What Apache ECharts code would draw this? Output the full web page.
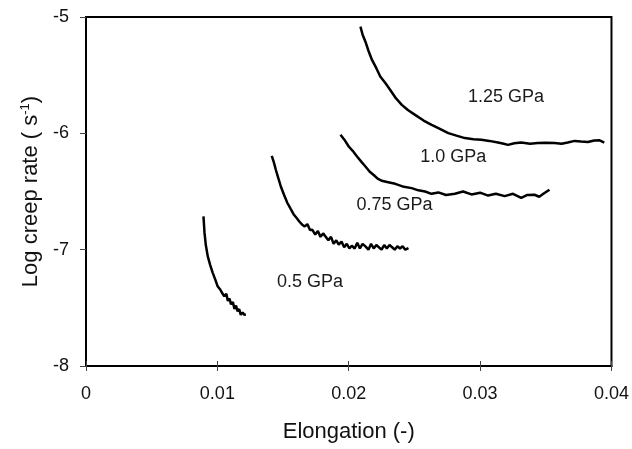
<!DOCTYPE html>
<html>
<head>
<meta charset="utf-8">
<script src="https://cdn.jsdelivr.net/npm/echarts@6/dist/echarts.min.js"></script>
<style>
  html, body { margin: 0; padding: 0; background: #fff; }
  #chart { width: 632px; height: 449px; }
</style>
</head>
<body>
<div id="chart"></div>
<script>
// elongation (-) and log creep rate (s^-1) per stress level
const x05 = [0.00894,0.00898,0.00902,0.00912,0.00927,0.00945,0.00964,0.00985,0.01002,0.01020,0.01035,0.01053,0.01068,0.01080,0.01092,0.01104,0.01118,0.01130,0.01142,0.01154,0.01166,0.01178,0.01192,0.01205,0.01217]
const y05 = [-6.714,-6.78,-6.854,-6.96,-7.058,-7.13,-7.197,-7.26,-7.315,-7.34,-7.37,-7.40,-7.38,-7.44,-7.42,-7.47,-7.45,-7.51,-7.48,-7.53,-7.51,-7.56,-7.54,-7.56,-7.558]

const x075 = [0.01414,0.01430,0.01445,0.01465,0.01483,0.01508,0.01533,0.01558,0.01583,0.01605,0.01625,0.01646,0.01665,0.01685,0.01705,0.01722,0.01745,0.01765,0.01785,0.01805,0.01823,0.01845,0.01865,0.01885,0.01905,0.01924,0.01945,0.01965,0.01985,0.02005,0.02023,0.02045,0.02065,0.02085,0.02105,0.02127,0.02150,0.02170,0.02190,0.02210,0.02227,0.02250,0.02270,0.02290,0.02310,0.02328,0.02350,0.02370,0.02390,0.02410,0.02430,0.02455]
const y075 = [-6.193,-6.25,-6.313,-6.39,-6.457,-6.53,-6.599,-6.65,-6.70,-6.73,-6.76,-6.785,-6.80,-6.78,-6.83,-6.828,-6.87,-6.84,-6.89,-6.86,-6.886,-6.92,-6.89,-6.95,-6.92,-6.957,-6.93,-6.98,-6.95,-6.99,-6.966,-6.99,-6.94,-6.99,-6.95,-6.972,-7.0,-6.95,-6.99,-6.96,-6.977,-7.0,-6.96,-6.99,-6.96,-6.977,-7.0,-6.97,-6.99,-6.97,-7.0,-6.986]

const x10 = [0.01937,0.0197,0.0200,0.0203,0.02063,0.0210,0.02127,0.0216,0.0219,0.0222,0.02252,0.0230,0.02354,0.0242,0.02479,0.0253,0.02581,0.0263,0.02682,0.0274,0.02808,0.0287,0.02934,0.0300,0.03061,0.0312,0.03187,0.0325,0.03313,0.0336,0.03414,0.0345,0.0349,0.03528]
const y10 = [-6.013,-6.06,-6.113,-6.15,-6.199,-6.25,-6.285,-6.33,-6.358,-6.39,-6.408,-6.42,-6.434,-6.46,-6.471,-6.49,-6.50,-6.52,-6.508,-6.53,-6.52,-6.50,-6.525,-6.51,-6.535,-6.52,-6.54,-6.52,-6.555,-6.53,-6.528,-6.545,-6.513,-6.485]

const x125 = [0.02089,0.02105,0.02127,0.0215,0.02177,0.0221,0.0224,0.0228,0.02316,0.0236,0.02404,0.0245,0.02505,0.0257,0.02631,0.0269,0.02758,0.0282,0.02884,0.0295,0.0301,0.0307,0.03136,0.0318,0.03212,0.0326,0.03313,0.0338,0.03439,0.0350,0.03566,0.0362,0.03667,0.0372,0.03768,0.0382,0.03869,0.0391,0.03945]
const y125 = [-5.083,-5.15,-5.212,-5.29,-5.369,-5.44,-5.511,-5.57,-5.627,-5.70,-5.755,-5.80,-5.841,-5.89,-5.927,-5.96,-5.998,-6.02,-6.041,-6.05,-6.056,-6.065,-6.079,-6.09,-6.099,-6.085,-6.079,-6.09,-6.084,-6.08,-6.084,-6.09,-6.079,-6.065,-6.07,-6.075,-6.061,-6.06,-6.079]

// label anchors (data coords)
const labelNames = ['0.5 GPa', '0.75 GPa', '1.0 GPa', '1.25 GPa']
const labelX = [0.01705, 0.02348, 0.02795, 0.03197]
const labelY = [-7.275, -6.614, -6.202, -5.687]

const xTicks = [0, 0.01, 0.02, 0.03, 0.04]
const yTicks = [-8, -7, -6, -5]

const font = 'Liberation Sans, Arial, sans-serif'
const zip = (xs, ys) => xs.map((v, i) => [v, ys[i]])
const curves = [zip(x05, y05), zip(x075, y075), zip(x10, y10), zip(x125, y125)]

const chart = echarts.init(document.getElementById('chart'), null, { renderer: 'canvas' })

chart.setOption({
  animation: false,
  grid: { left: 86, right: 18, top: 17, bottom: 83, show: true, borderColor: '#000', borderWidth: 2 },
  xAxis: [
    {
      type: 'value', min: xTicks[0], max: xTicks[xTicks.length - 1], interval: 0.01,
      name: 'Elongation (-)', nameLocation: 'middle', nameGap: 55,
      nameTextStyle: { fontFamily: font, fontSize: 22, color: '#111' },
      axisLine: { show: true, lineStyle: { color: '#000', width: 2 } },
      axisTick: { show: true, length: 5, lineStyle: { color: '#444', width: 1 } },
      axisLabel: { fontFamily: font, fontSize: 18, color: '#111', margin: 19, formatter: v => String(+v.toFixed(2)) },
      splitLine: { show: false }
    },
    {
      type: 'value', position: 'bottom', min: xTicks[0], max: xTicks[xTicks.length - 1], interval: 0.01,
      axisLine: { show: false },
      axisTick: { show: true, inside: true, length: 5, lineStyle: { color: '#444', width: 1 } },
      axisLabel: { show: false },
      splitLine: { show: false }
    }
  ],
  yAxis: {
    type: 'value', min: yTicks[0], max: yTicks[yTicks.length - 1], interval: 1,
    name: 'Log creep rate ( s{sup|-1})', nameLocation: 'middle', nameGap: 44,
    nameTextStyle: {
      fontFamily: font, fontSize: 22, color: '#111',
      rich: { sup: { fontFamily: font, fontSize: 13, color: '#111', verticalAlign: 'top', padding: [0, 0, 10, 0] } }
    },
    axisLine: { show: true, lineStyle: { color: '#000', width: 2 } },
    axisTick: { show: true, length: 6, lineStyle: { color: '#444', width: 1 } },
    axisLabel: { fontFamily: font, fontSize: 18, color: '#111', margin: 17 },
    splitLine: { show: false }
  },
  series: curves.map((d, i) => ({
    type: 'line',
    data: d,
    showSymbol: false,
    symbol: 'none',
    lineStyle: { color: '#000', width: 2.5 },
    markPoint: {
      symbol: 'circle', symbolSize: 0,
      data: [{ coord: [labelX[i], labelY[i]], name: labelNames[i] }],
      label: { show: true, position: 'inside', formatter: labelNames[i], fontFamily: font, fontSize: 18, color: '#1a1a1a' }
    }
  }))
})
</script>
</body>
</html>
